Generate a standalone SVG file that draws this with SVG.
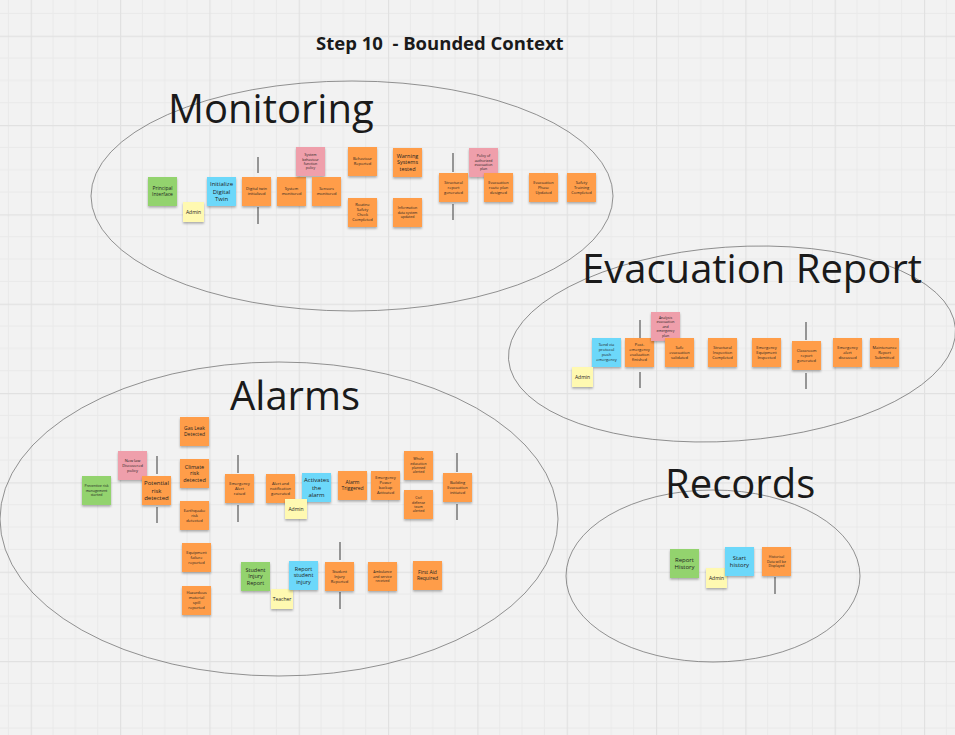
<svg xmlns="http://www.w3.org/2000/svg" width="955" height="735" viewBox="0 0 955 735">
<defs>
<pattern id="grid" patternUnits="userSpaceOnUse" x="30.7" y="35.7" width="89.33" height="89.33">
<path d="M22.33 0V89.33M44.67 0V89.33M67 0V89.33M0 22.33H89.33M0 44.67H89.33M0 67H89.33" stroke="#e9e9e9" stroke-width="1" fill="none"/>
<path d="M0.5 0V89.33M0 0.5H89.33" stroke="#e1e1e1" stroke-width="1.4" fill="none"/>
</pattern>
<filter id="sh" x="-20%" y="-20%" width="140%" height="150%">
<feDropShadow dx="0" dy="1.6" stdDeviation="1.1" flood-color="#000" flood-opacity="0.3"/>
</filter>
<style>
.o{fill:#ff9d48}
.g{fill:#93d36e}
.b{fill:#6cd8fa}
.p{fill:#ef9fab}
.y{fill:#fff9b1}
.s{filter:url(#sh)}
.t{font-family:"Open Sans","DejaVu Sans",sans-serif;fill:#222;text-anchor:middle}
.f35{font-size:3.5px}
.f4{font-size:4px}
.f5{font-size:5px}
.f55{font-size:5.5px}
.f6{font-size:6px}
.ctx{fill:none;stroke:#666;stroke-width:0.7}
.ttl{font-family:"Open Sans","DejaVu Sans",sans-serif;font-size:40px;fill:#1a1a1a}
.dv{stroke:#777;stroke-width:1.5;fill:none}
</style>
</defs>
<rect width="955" height="735" fill="#f2f2f2"/>
<rect width="955" height="735" fill="url(#grid)"/>

<g id="contexts">
<ellipse class="ctx" cx="352" cy="196" rx="261" ry="115"/>
<ellipse class="ctx" cx="732" cy="344" rx="224" ry="97" transform="rotate(-4 732 344)"/>
<ellipse class="ctx" cx="279" cy="519" rx="279" ry="157"/>
<ellipse class="ctx" cx="713" cy="576" rx="147" ry="86"/>
</g>

<text x="316" y="50" xml:space="preserve" font-family="'Open Sans','DejaVu Sans',sans-serif" font-weight="bold" font-size="18.5" fill="#1a1a1a">Step 10  - Bounded Context</text>
<text class="ttl" x="168" y="123">Monitoring</text>
<text class="ttl" x="582" y="283">Evacuation Report</text>
<text class="ttl" x="230" y="410">Alarms</text>
<text class="ttl" x="665" y="498">Records</text>

<g id="connectors">
<path class="dv" d="M258 157V173M258 207V224"/>
<path class="dv" d="M453 153V172M453 204V220"/>
<path class="dv" d="M640 320V338M640 372V388"/>
<path class="dv" d="M806 322V340M806 373V389"/>
<path class="dv" d="M157 456V474M157 507V523"/>
<path class="dv" d="M238 455V473M238 505V522"/>
<path class="dv" d="M457 453V472M457 504V520"/>
<path class="dv" d="M340 542V560M340 592V609"/>
<path class="dv" d="M775 577V594"/>
</g>

<!-- Monitoring -->
<g id="principal-interface"><rect class="g s" x="148" y="177" width="29" height="29"/><text class="t f5" x="162.5" y="190.25">Principal<tspan x="162.5" dy="6">Interface</tspan></text></g>
<g id="admin-monitoring"><rect class="y s" x="183" y="202" width="21" height="20"/><text class="t f5" x="193.5" y="213.75">Admin</text></g>
<g id="initialize-digital-twin"><rect class="b s" x="207" y="177" width="29" height="29"/><text class="t f6" x="221.5" y="186.4">Initialize<tspan x="221.5" dy="7.2">Digital</tspan><tspan x="221.5" dy="7.2">Twin</tspan></text></g>
<g id="digital-twin-initialized"><rect class="o s" x="242" y="177" width="29" height="29"/><text class="t f4" x="256.5" y="190.4">Digital twin<tspan x="256.5" dy="5">initialized</tspan></text></g>
<g id="system-monitored"><rect class="o s" x="277" y="177" width="29" height="29"/><text class="t f4" x="291.5" y="190.4">System<tspan x="291.5" dy="5">monitored</tspan></text></g>
<g id="system-behaviour-policy"><rect class="p s" x="296" y="147" width="29" height="29"/><text class="t f35" x="310.5" y="156.1">System<tspan x="310.5" dy="4.4">behaviour</tspan><tspan x="310.5" dy="4.4">function</tspan><tspan x="310.5" dy="4.4">policy</tspan></text></g>
<g id="sensors-monitored"><rect class="o s" x="312" y="177" width="29" height="29"/><text class="t f4" x="326.5" y="190.4">Sensors<tspan x="326.5" dy="5">monitored</tspan></text></g>
<g id="behaviour-reported"><rect class="o s" x="348" y="147" width="29" height="29"/><text class="t f4" x="362.5" y="160.4">Behaviour<tspan x="362.5" dy="5">Reported</tspan></text></g>
<g id="routine-safety-check"><rect class="o s" x="348" y="198" width="29" height="29"/><text class="t f4" x="362.5" y="206.4">Routine<tspan x="362.5" dy="5">Safety</tspan><tspan x="362.5" dy="5">Check</tspan><tspan x="362.5" dy="5">Completed</tspan></text></g>
<g id="warning-systems-tested"><rect class="o s" x="393" y="148" width="29" height="29"/><text class="t f55" x="407.5" y="157.6">Warning<tspan x="407.5" dy="6.8">Systems</tspan><tspan x="407.5" dy="6.8">tested</tspan></text></g>
<g id="information-updated"><rect class="o s" x="393" y="198" width="29" height="29"/><text class="t f35" x="407.5" y="209.3">Information<tspan x="407.5" dy="4.4">data system</tspan><tspan x="407.5" dy="4.4">updated</tspan></text></g>
<g id="structural-report-generated"><rect class="o s" x="439" y="173" width="29" height="29"/><text class="t f4" x="453.5" y="183.9">Structural<tspan x="453.5" dy="5">report</tspan><tspan x="453.5" dy="5">generated</tspan></text></g>
<g id="evacuation-plan-policy"><rect class="p s" x="469" y="148" width="29" height="29"/><text class="t f35" x="483.5" y="157.1">Policy of<tspan x="483.5" dy="4.4">authorized</tspan><tspan x="483.5" dy="4.4">evacuation</tspan><tspan x="483.5" dy="4.4">plan</tspan></text></g>
<g id="evacuation-route-designed"><rect class="o s" x="484" y="173" width="29" height="29"/><text class="t f4" x="498.5" y="183.9">Evacuation<tspan x="498.5" dy="5">route plan</tspan><tspan x="498.5" dy="5">designed</tspan></text></g>
<g id="evacuation-phase-updated"><rect class="o s" x="529" y="173" width="29" height="29"/><text class="t f4" x="543.5" y="183.9">Evacuation<tspan x="543.5" dy="5">Phase</tspan><tspan x="543.5" dy="5">Updated</tspan></text></g>
<g id="safety-training-completed"><rect class="o s" x="567" y="173" width="29" height="29"/><text class="t f4" x="581.5" y="183.9">Safety<tspan x="581.5" dy="5">Training</tspan><tspan x="581.5" dy="5">Completed</tspan></text></g>

<!-- Evacuation Report -->
<g id="send-via-protocol"><rect class="b s" x="592" y="338" width="29" height="29"/><text class="t f4" x="606.5" y="346.4">Send via<tspan x="606.5" dy="5">protocol</tspan><tspan x="606.5" dy="5">push</tspan><tspan x="606.5" dy="5">emergency</tspan></text></g>
<g id="admin-evacuation"><rect class="y s" x="572" y="367" width="21" height="20"/><text class="t f5" x="582.5" y="378.75">Admin</text></g>
<g id="post-emergency-evaluation"><rect class="o s" x="625" y="338" width="29" height="29"/><text class="t f4" x="639.5" y="346.4">Post-<tspan x="639.5" dy="5">emergency</tspan><tspan x="639.5" dy="5">evaluation</tspan><tspan x="639.5" dy="5">finished</tspan></text></g>
<g id="analysis-evacuation-plan"><rect class="p s" x="651" y="312" width="29" height="29"/><text class="t f35" x="665.5" y="318.9">Analysis<tspan x="665.5" dy="4.4">evacuation</tspan><tspan x="665.5" dy="4.4">and</tspan><tspan x="665.5" dy="4.4">emergency</tspan><tspan x="665.5" dy="4.4">plan</tspan></text></g>
<g id="safe-evacuation-validated"><rect class="o s" x="665" y="338" width="29" height="29"/><text class="t f4" x="679.5" y="348.9">Safe<tspan x="679.5" dy="5">evacuation</tspan><tspan x="679.5" dy="5">validated</tspan></text></g>
<g id="structural-inspection-completed"><rect class="o s" x="708" y="338" width="29" height="29"/><text class="t f4" x="722.5" y="348.9">Structural<tspan x="722.5" dy="5">Inspection</tspan><tspan x="722.5" dy="5">Completed</tspan></text></g>
<g id="emergency-equipment-inspected"><rect class="o s" x="752" y="338" width="29" height="29"/><text class="t f4" x="766.5" y="348.9">Emergency<tspan x="766.5" dy="5">Equipment</tspan><tspan x="766.5" dy="5">Inspected</tspan></text></g>
<g id="classroom-report-generated"><rect class="o s" x="792" y="341" width="29" height="29"/><text class="t f4" x="806.5" y="351.9">Classroom<tspan x="806.5" dy="5">report</tspan><tspan x="806.5" dy="5">generated</tspan></text></g>
<g id="emergency-alert-discussed"><rect class="o s" x="833" y="338" width="29" height="29"/><text class="t f4" x="847.5" y="348.9">Emergency<tspan x="847.5" dy="5">alert</tspan><tspan x="847.5" dy="5">discussed</tspan></text></g>
<g id="maintenance-report-submitted"><rect class="o s" x="870" y="338" width="29" height="29"/><text class="t f4" x="884.5" y="348.9">Maintenance<tspan x="884.5" dy="5">Report</tspan><tspan x="884.5" dy="5">Submitted</tspan></text></g>

<!-- Alarms -->
<g id="preventive-risk-management"><rect class="g s" x="82" y="476" width="29" height="29"/><text class="t f35" x="96.5" y="487.3">Preventive risk<tspan x="96.5" dy="4.4">management</tspan><tspan x="96.5" dy="4.4">started</tspan></text></g>
<g id="new-law-policy"><rect class="p s" x="118" y="451" width="29" height="29"/><text class="t f4" x="132.5" y="461.9">New law<tspan x="132.5" dy="5">Discovered</tspan><tspan x="132.5" dy="5">policy</tspan></text></g>
<g id="potential-risk-detected"><rect class="o s" x="142" y="476" width="29" height="29"/><text class="t f6" x="156.5" y="485.4">Potential<tspan x="156.5" dy="7.2">risk</tspan><tspan x="156.5" dy="7.2">detected</tspan></text></g>
<g id="gas-leak-detected"><rect class="o s" x="180" y="417" width="29" height="29"/><text class="t f5" x="194.5" y="430.25">Gas Leak<tspan x="194.5" dy="6">Detected</tspan></text></g>
<g id="climate-risk-detected"><rect class="o s" x="180" y="459" width="29" height="29"/><text class="t f55" x="194.5" y="468.6">Climate<tspan x="194.5" dy="6.8">risk</tspan><tspan x="194.5" dy="6.8">detected</tspan></text></g>
<g id="earthquake-risk-detected"><rect class="o s" x="180" y="501" width="29" height="29"/><text class="t f4" x="194.5" y="511.9">Earthquake<tspan x="194.5" dy="5">risk</tspan><tspan x="194.5" dy="5">detected</tspan></text></g>
<g id="equipment-failure-reported"><rect class="o s" x="182" y="543" width="29" height="29"/><text class="t f4" x="196.5" y="553.9">Equipment<tspan x="196.5" dy="5">failure</tspan><tspan x="196.5" dy="5">reported</tspan></text></g>
<g id="hazardous-spill-reported"><rect class="o s" x="182" y="586" width="29" height="29"/><text class="t f4" x="196.5" y="594.4">Hazardous<tspan x="196.5" dy="5">material</tspan><tspan x="196.5" dy="5">spill</tspan><tspan x="196.5" dy="5">reported</tspan></text></g>
<g id="emergency-alert-raised"><rect class="o s" x="225" y="474" width="29" height="29"/><text class="t f4" x="239.5" y="484.9">Emergency<tspan x="239.5" dy="5">Alert</tspan><tspan x="239.5" dy="5">raised</tspan></text></g>
<g id="alert-notification-generated"><rect class="o s" x="266" y="474" width="29" height="29"/><text class="t f4" x="280.5" y="484.9">Alert and<tspan x="280.5" dy="5">notification</tspan><tspan x="280.5" dy="5">generated</tspan></text></g>
<g id="activates-alarm"><rect class="b s" x="302" y="473" width="29" height="29"/><text class="t f6" x="316.5" y="482.4">Activates<tspan x="316.5" dy="7.2">the</tspan><tspan x="316.5" dy="7.2">alarm</tspan></text></g>
<g id="admin-alarms"><rect class="y s" x="285" y="499" width="22" height="20"/><text class="t f5" x="296" y="510.75">Admin</text></g>
<g id="alarm-triggered"><rect class="o s" x="338" y="471" width="29" height="29"/><text class="t f5" x="352.5" y="484.25">Alarm<tspan x="352.5" dy="6">Triggered</tspan></text></g>
<g id="emergency-power-backup"><rect class="o s" x="371" y="471" width="29" height="29"/><text class="t f4" x="385.5" y="479.4">Emergency<tspan x="385.5" dy="5">Power</tspan><tspan x="385.5" dy="5">backup</tspan><tspan x="385.5" dy="5">Activated</tspan></text></g>
<g id="whole-education-alerted"><rect class="o s" x="404" y="451" width="29" height="29"/><text class="t f35" x="418.5" y="460.1">Whole<tspan x="418.5" dy="4.4">education</tspan><tspan x="418.5" dy="4.4">planned</tspan><tspan x="418.5" dy="4.4">alerted</tspan></text></g>
<g id="civil-defense-alerted"><rect class="o s" x="404" y="490" width="29" height="29"/><text class="t f35" x="418.5" y="499.1">Civil<tspan x="418.5" dy="4.4">defense</tspan><tspan x="418.5" dy="4.4">team</tspan><tspan x="418.5" dy="4.4">alerted</tspan></text></g>
<g id="building-evacuation-initiated"><rect class="o s" x="443" y="473" width="29" height="29"/><text class="t f4" x="457.5" y="483.9">Building<tspan x="457.5" dy="5">Evacuation</tspan><tspan x="457.5" dy="5">initiated</tspan></text></g>
<g id="student-injury-report"><rect class="g s" x="241" y="562" width="29" height="29"/><text class="t f55" x="255.5" y="571.6">Student<tspan x="255.5" dy="6.8">Injury</tspan><tspan x="255.5" dy="6.8">Report</tspan></text></g>
<g id="teacher"><rect class="y s" x="271" y="589" width="22" height="20"/><text class="t f5" x="282" y="600.75">Teacher</text></g>
<g id="report-student-injury"><rect class="b s" x="289" y="561" width="29" height="29"/><text class="t f55" x="303.5" y="570.6">Report<tspan x="303.5" dy="6.8">student</tspan><tspan x="303.5" dy="6.8">injury</tspan></text></g>
<g id="student-injury-reported"><rect class="o s" x="325" y="562" width="29" height="29"/><text class="t f4" x="339.5" y="572.9">Student<tspan x="339.5" dy="5">Injury</tspan><tspan x="339.5" dy="5">Reported</tspan></text></g>
<g id="ambulance-received"><rect class="o s" x="368" y="562" width="29" height="29"/><text class="t f35" x="382.5" y="573.3">Ambulance<tspan x="382.5" dy="4.4">and service</tspan><tspan x="382.5" dy="4.4">received</tspan></text></g>
<g id="first-aid-required"><rect class="o s" x="413" y="561" width="29" height="29"/><text class="t f5" x="427.5" y="574.25">First Aid<tspan x="427.5" dy="6">Required</tspan></text></g>

<!-- Records -->
<g id="report-history"><rect class="g s" x="670" y="549" width="29" height="29"/><text class="t f6" x="684.5" y="562">Report<tspan x="684.5" dy="7.2">History</tspan></text></g>
<g id="admin-records"><rect class="y s" x="706" y="568" width="21" height="20"/><text class="t f5" x="716.5" y="579.75">Admin</text></g>
<g id="start-history"><rect class="b s" x="725" y="547" width="29" height="29"/><text class="t f6" x="739.5" y="560">Start<tspan x="739.5" dy="7.2">history</tspan></text></g>
<g id="historical-data-displayed"><rect class="o s" x="762" y="547" width="29" height="29"/><text class="t f35" x="776.5" y="558.3">Historical<tspan x="776.5" dy="4.4">Data will be</tspan><tspan x="776.5" dy="4.4">Displayed</tspan></text></g>
</svg>
